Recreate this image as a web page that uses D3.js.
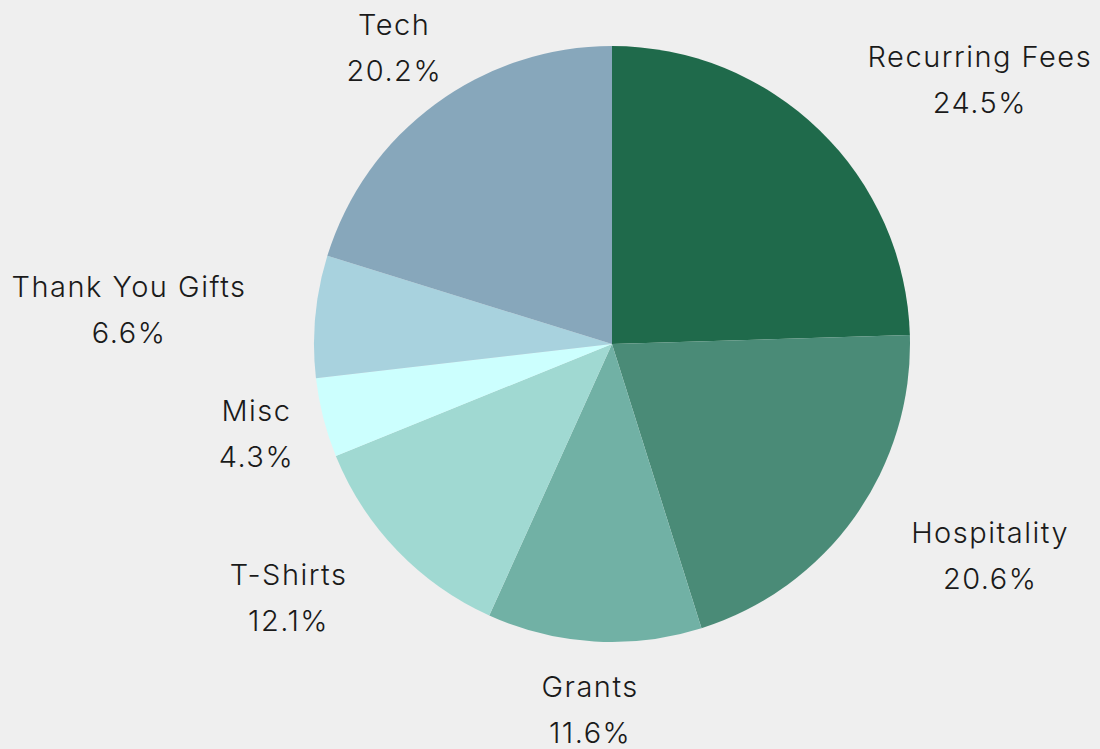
<!DOCTYPE html>
<html>
<head>
<meta charset="utf-8">
<script src="https://cdn.jsdelivr.net/npm/d3@7"></script>
<style>
  html, body { margin: 0; padding: 0; background: #efefef; }
  svg { display: block; }
</style>
</head>
<body>
<svg id="chart" width="1100" height="749"></svg>
<script>
const categories = ["Recurring Fees", "Hospitality", "Grants", "T-Shirts", "Misc", "Thank You Gifts", "Tech"];
const values = [24.5, 20.6, 11.6, 12.1, 4.3, 6.6, 20.2];
const colors = ["#1f6a4b", "#4a8b77", "#71b1a5", "#a0d9d2", "#ccfffe", "#a8d2de", "#87a7bb"];

const W = 1100, H = 749;
const cx = 612, cy = 344, r = 298, labelR = 367;
const lineGap = 46, fontSize = 29;
// label alignment relative to anchor point
const align = {"Recurring Fees": "start", "Hospitality": "start", "Grants": "middle",
  "T-Shirts": "end", "Misc": "middle", "Thank You Gifts": "end", "Tech": "middle"};

const data = categories.map((c, i) => ({ name: c, value: values[i], color: colors[i] }));
const svg = d3.select("#chart");
svg.append("rect").attr("width", W).attr("height", H).attr("fill", "#efefef");

const pie = d3.pie().value(d => d.value).sort(null);
const arcs = pie(data);
const arc = d3.arc().innerRadius(0).outerRadius(r);
const labelArc = d3.arc().innerRadius(labelR).outerRadius(labelR);

const g = svg.append("g").attr("transform", `translate(${cx},${cy})`);
g.selectAll("path").data(arcs).join("path")
  .attr("d", arc)
  .attr("fill", d => d.data.color);

const lab = g.selectAll("g.label").data(arcs).join("g").attr("class", "label")
  .attr("transform", d => `translate(${labelArc.centroid(d)})`);

lab.each(function(d) {
  const sel = d3.select(this);
  const a = align[d.data.name];
  const t = sel.append("text")
    .attr("text-anchor", "middle")
    .attr("font-family", "Inter, 'Noto Sans', sans-serif")
    .attr("font-weight", 300)
    .attr("font-size", fontSize)
    .attr("letter-spacing", 1.5)
    .attr("fill", "#1a1a1a");
  t.append("tspan").attr("x", 0).attr("y", -lineGap / 2).attr("dy", "0.33em").text(d.data.name);
  t.append("tspan").attr("x", 0).attr("y", lineGap / 2).attr("dy", "0.33em")
    .text((d.data.value).toFixed(1) + "%");
  if (a !== "middle") {
    const tsp = t.selectAll("tspan").nodes();
    const wmax = Math.max(tsp[0].getComputedTextLength(), tsp[1].getComputedTextLength());
    const sign = a === "start" ? 1 : -1;
    tsp.forEach(n => d3.select(n).attr("x", sign * wmax / 2));
  }
});
</script>
</body>
</html>
